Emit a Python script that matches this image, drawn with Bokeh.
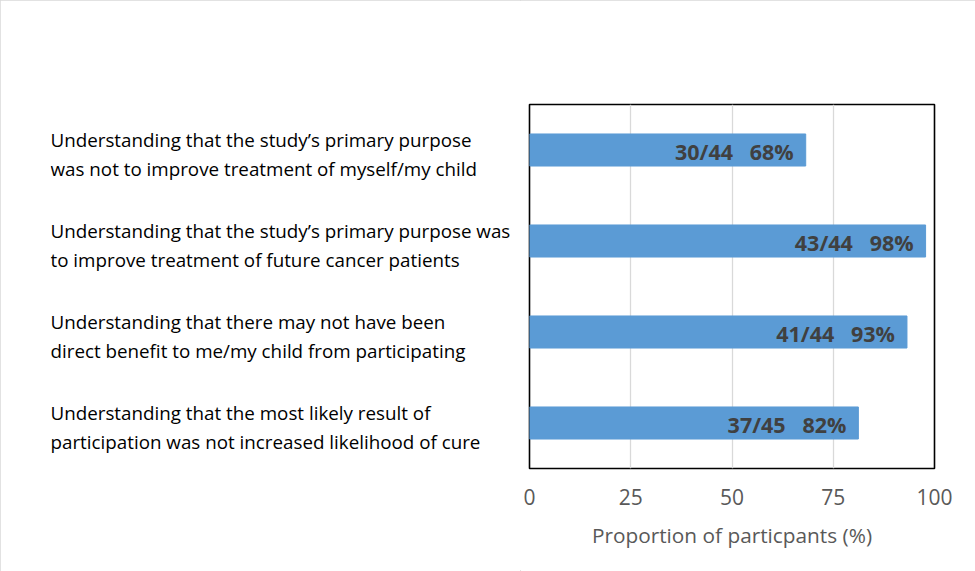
from bokeh.plotting import figure
from bokeh.layouts import row
from bokeh.models import Range1d, FactorRange, ColumnDataSource, FixedTicker
from bokeh.core.properties import value
from bokeh.embed import file_html
from bokeh.resources import INLINE

line1 = [
    "Understanding that the study\u2019s primary purpose",
    "Understanding that the study\u2019s primary purpose was",
    "Understanding that there may not have been",
    "Understanding that the most likely result of",
]
line2 = [
    "was not to improve treatment of myself/my child",
    "to improve treatment of future cancer patients",
    "direct benefit to me/my child from participating",
    "participation was not increased likelihood of cure",
]
numerators = [30, 43, 41, 37]
denominators = [44, 44, 44, 45]
percent_labels = [68, 98, 93, 82]
bar_values = [68.2, 97.8, 93.2, 81.2]
x_ticks = [0, 25, 50, 75, 100]

cats = [a + " " + b for a, b in zip(line1, line2)]
bar_text = [f"{n}/{d}\u00a0\u00a0\u00a0{p}%" for n, d, p in zip(numerators, denominators, percent_labels)]

FONT = "Open Sans"
H = 571
LEFT_W = 520

yr = FactorRange(*list(reversed(cats)))
src = ColumnDataSource(dict(cat=cats, val=bar_values, txt=bar_text,
                            l1=line1, l2=line2, lx=[0] * len(cats)))

# left panel with the category texts
pl = figure(width=LEFT_W, height=H, output_backend="svg", toolbar_location=None,
            x_range=Range1d(0, 1), y_range=yr,
            min_border_left=50, min_border_right=0, min_border_top=104, min_border_bottom=103)
for col, off in (("l1", -10), ("l2", 19)):
    pl.text(x="lx", y="cat", text=col, source=src, y_offset=off,
            text_align="left", text_baseline="alphabetic", text_font=value(FONT),
            text_font_size="18.8px", text_color="#000000")
pl.axis.visible = False
pl.grid.grid_line_color = None
pl.outline_line_color = None
pl.border_fill_color = "white"

# right panel with the bars
p = figure(width=975 - LEFT_W, height=H, output_backend="svg", toolbar_location=None,
           x_range=Range1d(0, 100), y_range=yr,
           min_border_left=529 - LEFT_W, min_border_right=41, min_border_top=104, min_border_bottom=103)

p.hbar(y="cat", right="val", left=0, height=0.352, source=src,
       fill_color="#5B9BD5", line_color="#5B9BD5", line_width=1)
p.text(x="val", y="cat", text="txt", source=src, x_offset=-12, y_offset=1,
       text_align="right", text_baseline="middle", text_font=value(FONT),
       text_font_style="bold", text_font_size="21.5px", text_color="#404040")

p.yaxis.visible = False
p.ygrid.grid_line_color = None
p.xgrid.ticker = FixedTicker(ticks=x_ticks)
p.xgrid.grid_line_color = "#d9d9d9"
p.xgrid.grid_line_width = 1.3
p.xaxis.ticker = FixedTicker(ticks=x_ticks)
p.xaxis.axis_line_color = None
p.xaxis.major_tick_line_color = None
p.xaxis.minor_tick_line_color = None
p.xaxis.major_tick_in = 0
p.xaxis.major_tick_out = 0
p.xaxis.major_label_standoff = 20
p.xaxis.major_label_text_font = FONT
p.xaxis.major_label_text_font_size = "21px"
p.xaxis.major_label_text_color = "#595959"
p.xaxis.axis_label = "Proportion of particpants (%)"
p.xaxis.axis_label_standoff = 13
p.xaxis.axis_label_text_font = FONT
p.xaxis.axis_label_text_font_size = "20.8px"
p.xaxis.axis_label_text_font_style = "normal"
p.xaxis.axis_label_text_color = "#595959"

p.outline_line_color = "#000000"
p.outline_line_width = 1.6
p.background_fill_color = "white"
p.border_fill_color = "white"

layout = row(pl, p, spacing=0,
             styles={"outline": "1.5px solid #d9d9d9", "outline-offset": "-1.5px"})
open("out.html", "w").write(file_html(layout, INLINE))
